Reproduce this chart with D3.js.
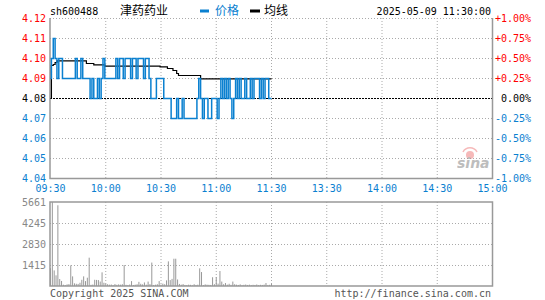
<!DOCTYPE html>
<html lang="en">
<head>
    <meta charset="UTF-8">
    <title>sh600488 分时</title>
    <script src="https://d3js.org/d3.v7.min.js"></script>
    <style>
        body { margin: 0; background: #fff; }
        svg { display: block; }
        .mono { font-family: "DejaVu Sans Mono", monospace; font-size: 10px; }
        .cjk { font-family: "Noto Sans CJK SC", sans-serif; font-size: 12px; }
    </style>
</head>
<body>
<div id="container"></div>
<script>
    // minute prices 09:30 .. 11:30
    const prices = [
        4.09,4.10,4.11,4.10,4.09,4.10,4.10,4.09,4.09,4.09,
        4.09,4.09,4.09,4.09,4.10,4.09,4.09,4.10,4.09,4.09,
        4.09,4.09,4.08,4.09,4.08,4.08,4.09,4.08,4.09,4.10,
        4.09,4.09,4.09,4.09,4.09,4.09,4.10,4.09,4.10,4.10,
        4.09,4.10,4.10,4.10,4.09,4.10,4.10,4.09,4.10,4.10,
        4.10,4.09,4.10,4.10,4.09,4.08,4.08,4.08,4.09,4.09,
        4.09,4.09,4.08,4.08,4.08,4.08,4.07,4.07,4.07,4.08,
        4.07,4.07,4.08,4.07,4.07,4.07,4.07,4.07,4.07,4.07,
        4.08,4.09,4.08,4.07,4.08,4.08,4.07,4.07,4.08,4.08,
        4.08,4.07,4.08,4.09,4.08,4.09,4.08,4.09,4.08,4.07,
        4.08,4.09,4.08,4.09,4.08,4.08,4.09,4.08,4.08,4.09,
        4.08,4.09,4.09,4.09,4.08,4.09,4.08,4.09,4.09,4.08,
        4.08
    ];
    // average price line
    const avgPrices = [
        4.080,4.0965,4.097,4.098,4.0988,4.0988,4.0988,4.0988,4.0988,4.0988,
        4.0988,4.0988,4.0988,4.0988,4.0988,4.0988,4.0988,4.0988,4.0988,4.0988,
        4.0975,4.0975,4.0975,4.0975,4.0968,4.0968,4.0968,4.0968,4.0968,4.0968,
        4.0962,4.0962,4.0962,4.0962,4.0962,4.0962,4.0962,4.0962,4.0962,4.0962,
        4.0962,4.0962,4.0962,4.0962,4.0962,4.0962,4.0962,4.0962,4.0962,4.0962,
        4.0962,4.0962,4.0962,4.0962,4.0962,4.0962,4.0962,4.0962,4.0962,4.0962,
        4.0958,4.0958,4.0958,4.0958,4.0950,4.0950,4.0950,4.0940,4.0940,4.0925,
        4.0915,4.0915,4.0915,4.0915,4.0915,4.0915,4.0915,4.0915,4.0915,4.0915,
        4.0915,4.0915,4.0898,4.0898,4.0898,4.0898,4.0898,4.0898,4.0898,4.0898,
        4.0898,4.0898,4.0898,4.0898,4.0898,4.0898,4.0898,4.0898,4.0898,4.0898,
        4.0898,4.0898,4.0898,4.0898,4.0898,4.0898,4.0898,4.0898,4.0898,4.0898,
        4.0898,4.0898,4.0898,4.0898,4.0898,4.0898,4.0898,4.0898,4.0898,4.0898,
        4.0898
    ];
    // minute volumes
    const volumes = [
        1200,5661,1050,720,5440,470,340,90,60,110,
        130,1390,650,180,150,140,220,420,650,330,
        560,1910,80,100,420,410,400,300,920,220,
        150,120,90,100,60,130,80,110,90,120,
        1415,80,60,100,330,70,90,120,280,150,
        110,240,90,300,130,1580,70,90,120,330,
        90,160,120,380,1660,400,480,1840,1840,440,
        140,90,130,70,60,90,80,50,120,70,
        90,1190,940,60,110,90,80,70,590,120,
        590,160,1010,300,120,200,90,150,80,300,
        120,90,70,110,60,80,100,70,90,60,
        80,70,100,60,80,70,90,200,60,80,
        150
    ];
    const timeLabels = ['09:30','10:00','10:30','11:00','11:30','13:30','14:00','14:30','15:00'];
    const priceTicks = [4.12,4.11,4.10,4.09,4.08,4.07,4.06,4.05,4.04];
    const pctTicks = ['+1.00%','+0.75%','+0.50%','+0.25%','0.00%','-0.25%','-0.50%','-0.75%','-1.00%'];
    const volTicks = [5661,4245,2830,1415];
    const preClose = 4.08;

    const blue = '#0a80d0';
    const gridColor = '#aaa';
    const frameColor = '#999';

    const svg = d3.select('#container').append('svg')
        .attr('width', 545).attr('height', 300);

    const left = 50, right = 492.5;
    const x = d3.scaleLinear().domain([0, 240]).range([left + 0.5, right]);
    const y = d3.scaleLinear().domain([4.04, 4.12]).range([178, 18]);
    const yv = d3.scaleLinear().domain([0, 5661]).range([286, 202]);

    // header
    svg.append('text').attr('class', 'mono').attr('x', 50).attr('y', 15).attr('fill', '#000').text('sh600488');
    svg.append('text').attr('class', 'cjk').attr('x', 120).attr('y', 15).attr('fill', '#000').text('津药药业');
    svg.append('rect').attr('x', 200).attr('y', 9.5).attr('width', 9).attr('height', 3).attr('fill', blue);
    svg.append('text').attr('class', 'cjk').attr('x', 215).attr('y', 15).attr('fill', blue).text('价格');
    svg.append('rect').attr('x', 250).attr('y', 9.5).attr('width', 10).attr('height', 3).attr('fill', '#000');
    svg.append('text').attr('class', 'cjk').attr('x', 264).attr('y', 15).attr('fill', '#000').text('均线');
    svg.append('text').attr('class', 'mono').attr('x', 491).attr('y', 15).attr('text-anchor', 'end')
        .attr('fill', '#000').text('2025-05-09 11:30:00');

    // price grid
    svg.selectAll('.hgrid')
        .data(priceTicks.filter(d => d !== preClose))
        .enter().append('line')
        .attr('x1', left).attr('x2', right)
        .attr('y1', d => y(d) + 0.5).attr('y2', d => y(d) + 0.5)
        .attr('stroke', gridColor).attr('stroke-dasharray', '1,2');
    svg.selectAll('.vgrid')
        .data(d3.range(1, 8))
        .enter().append('line')
        .attr('x1', d => x(d * 30)).attr('x2', d => x(d * 30))
        .attr('y1', 18).attr('y2', 178)
        .attr('stroke', gridColor).attr('stroke-dasharray', '1,2');
    svg.append('line')
        .attr('x1', left).attr('x2', right)
        .attr('y1', y(preClose) + 0.5).attr('y2', y(preClose) + 0.5)
        .attr('stroke', '#000').attr('stroke-dasharray', '2,1');

    // price frame
    svg.append('path')
        .attr('d', `M${left},18V178.5H${right}V18`)
        .attr('fill', 'none').attr('stroke', frameColor).attr('stroke-width', 1.5);

    // price labels
    function tickColor(i) {
        if (i < 4) return '#ff0000';
        if (i === 4) return '#000';
        return blue;
    }
    svg.selectAll('.plabel')
        .data(priceTicks).enter().append('text')
        .attr('class', 'mono')
        .attr('x', 46).attr('y', d => y(d) + 3.5)
        .attr('text-anchor', 'end')
        .attr('fill', (d, i) => tickColor(i))
        .text(d => d.toFixed(2));
    svg.selectAll('.pctlabel')
        .data(pctTicks).enter().append('text')
        .attr('class', 'mono')
        .attr('x', 531).attr('y', (d, i) => y(priceTicks[i]) + 3.5)
        .attr('text-anchor', 'end')
        .attr('fill', (d, i) => tickColor(i))
        .text(d => d);

    // time labels
    svg.selectAll('.tlabel')
        .data(timeLabels).enter().append('text')
        .attr('class', 'mono')
        .attr('x', (d, i) => x(i * 30)).attr('y', 192)
        .attr('text-anchor', 'middle')
        .attr('fill', blue)
        .text(d => d);

    // sina watermark
    const logo = svg.append('g').attr('opacity', 0.55);
    logo.append('circle').attr('cx', 470).attr('cy', 155).attr('r', 4).attr('fill', '#f08080');
    logo.append('path').attr('d', 'M463,152 A8,8 0 0 1 477,152').attr('fill', 'none').attr('stroke', '#f08080').attr('stroke-width', 1.5);
    logo.append('text').attr('x', 457).attr('y', 168)
        .attr('font-family', 'DejaVu Sans').attr('font-size', 14).attr('font-weight', 'bold')
        .attr('font-style', 'italic').attr('fill', '#888').text('sina');

    // lines
    const priceLine = d3.line()
        .x((d, i) => x(i)).y(d => y(d) + 0.5)
        .curve(d3.curveStep);
    svg.append('path').datum(avgPrices)
        .attr('d', priceLine)
        .attr('fill', 'none').attr('stroke', '#000').attr('stroke-width', 1.2);
    svg.append('path').datum(prices)
        .attr('d', priceLine)
        .attr('fill', 'none').attr('stroke', blue).attr('stroke-width', 1.5);

    // volume grid
    svg.selectAll('.vhgrid')
        .data(volTicks.slice(1)).enter().append('line')
        .attr('x1', left).attr('x2', right)
        .attr('y1', d => yv(d) + 0.5).attr('y2', d => yv(d) + 0.5)
        .attr('stroke', gridColor).attr('stroke-dasharray', '1,2');
    svg.selectAll('.vvgrid')
        .data(d3.range(1, 8)).enter().append('line')
        .attr('x1', d => x(d * 30)).attr('x2', d => x(d * 30))
        .attr('y1', 202).attr('y2', 286)
        .attr('stroke', gridColor).attr('stroke-dasharray', '1,2');

    // volume bars
    svg.selectAll('.vbar')
        .data(volumes).enter().append('rect')
        .attr('x', (d, i) => x(i) - 0.5)
        .attr('y', d => yv(d))
        .attr('width', 1)
        .attr('height', d => yv(0) - yv(d))
        .attr('fill', frameColor);

    svg.append('rect')
        .attr('x', left).attr('y', 202).attr('width', right - left).attr('height', 84)
        .attr('fill', 'none').attr('stroke', frameColor).attr('stroke-width', 1.5);

    svg.selectAll('.vlabel')
        .data(volTicks).enter().append('text')
        .attr('class', 'mono')
        .attr('x', 46).attr('y', d => yv(d) + 3.5)
        .attr('text-anchor', 'end')
        .attr('fill', '#888')
        .text(d => d);

    svg.append('text').attr('class', 'mono').attr('x', 50).attr('y', 297)
        .attr('fill', '#555').text('Copyright 2025 SINA.COM');
    svg.append('text').attr('class', 'mono').attr('x', 491).attr('y', 297)
        .attr('text-anchor', 'end').attr('fill', '#555').text('http://finance.sina.com.cn');
</script>
</body>
</html>
